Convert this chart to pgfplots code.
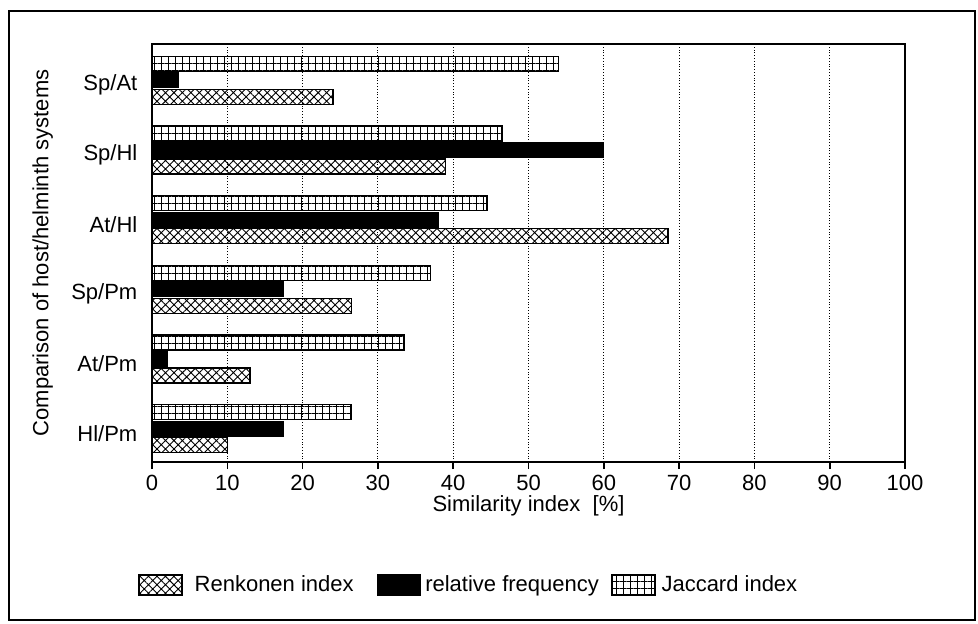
\documentclass[border=0pt,11pt]{standalone}
\usepackage{fontspec}
\setmainfont{Liberation Sans}
\usepackage{pgfplots}
\usepackage{pgfplotstable}
\pgfplotsset{compat=1.18}
\usetikzlibrary{patterns.meta}

% id: 5 = top group, 0 = bottom group
\pgfplotstableread{
id  J     RF    R
5   54    3.5   24
4   46.5  60    39
3   44.5  38    68.5
2   37    17.5  26.5
1   33.5  2     13
0   26.5  17.5  10
}\simdata

\begin{document}
\begin{tikzpicture}
% page: 978x623 px at 0.5pt per px
\useasboundingbox (0,0) rectangle (489pt,311.5pt);
\draw[line width=0.9pt] (4.5pt,1.5pt) rectangle (487.5pt,306pt);

\begin{axis}[
    at={(76pt,80.5pt)}, anchor=south west,
    scale only axis,
    width=376.5pt, height=209pt,
    xmin=0, xmax=100,
    ymin=-0.5, ymax=5.5,
    xtick={0,10,...,100},
    ytick={0,...,5},
    yticklabels={Hl/Pm, At/Pm, Sp/Pm, At/Hl, Sp/Hl, Sp/At},
    extra y ticks={-0.5,0.5,...,5.5},
    extra y tick labels={},
    extra y tick style={major tick length=3.5pt, grid=none},
    ytick style={draw=none},
    xtick style={black, line width=0.8pt},
    tick align=outside,
    tick pos=left,
    major tick length=3.5pt,
    axis line style={line width=1pt},
    xmajorgrids,
    major grid style={black, densely dotted, line width=0.5pt},
    /pgf/number format/assume math mode=true,
    tick label style={font=\fontsize{11}{13}\selectfont},
    yticklabel style={yshift=-3pt},
    xticklabel style={yshift=1pt},
    xlabel={Similarity index\ \ [\%]},
    ylabel={Comparison of host/helminth systems},
    label style={font=\fontsize{11}{13}\selectfont},
    xlabel style={at={(axis description cs:0.5,-0.105)}, anchor=center},
    ylabel style={at={(axis description cs:-0.145,0.5)}, anchor=center, rotate=0},
    bar width=7.5pt,
    legend image code/.code={\draw[#1, line width=0.8pt] (0pt,-5pt) rectangle (21.5pt,5pt);},
    legend style={draw=none, fill=none, at={(axis description cs:-0.027,-0.294)}, anchor=west,
        font=\fontsize{11}{13}\selectfont,
        /tikz/column 1/.style={column sep=4pt},
        /tikz/column 2/.style={column sep=9.5pt},
        /tikz/column 3/.style={column sep=0pt},
        /tikz/column 4/.style={column sep=4pt},
        /tikz/column 5/.style={column sep=1pt}},
    legend columns=3,
    legend cell align=left,
]
% Jaccard index (top bar of each group)
\addplot[xbar, bar shift=7.5pt, draw=black, line width=0.8pt,
    pattern={Hatch[angle=0, distance=3.5pt, line width=0.4pt]}, forget plot]
    table[x=J, y=id] {\simdata};
% relative frequency (middle bar)
\addplot[xbar, bar shift=-0.75pt, draw=black, fill=black, forget plot]
    table[x=RF, y=id] {\simdata};
% Renkonen index (bottom bar)
\addplot[xbar, bar shift=-9pt, draw=black, line width=0.8pt,
    pattern={Hatch[angle=45, distance=3pt, line width=0.45pt]}, forget plot]
    table[x=R, y=id] {\simdata};

\addlegendimage{draw=black, pattern={Hatch[angle=45, distance=3pt, line width=0.45pt]}}
\addlegendentry{Renkonen index}
\addlegendimage{draw=black, fill=black}
\addlegendentry{relative frequency}
\addlegendimage{draw=black, pattern={Hatch[angle=0, distance=3.5pt, line width=0.4pt]}}
\addlegendentry{Jaccard index}
\end{axis}
\end{tikzpicture}
\end{document}
